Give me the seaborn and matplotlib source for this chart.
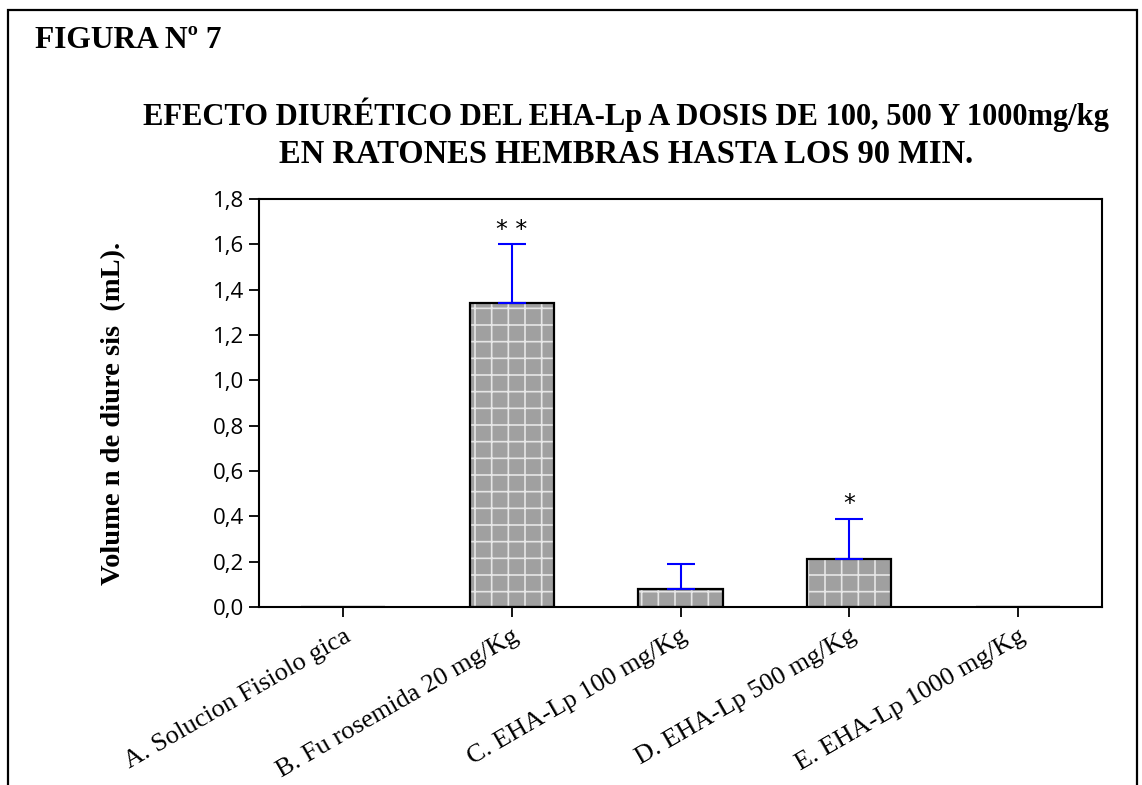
import matplotlib
matplotlib.use("Agg")
import matplotlib.pyplot as plt
import seaborn as sns
import pandas as pd
import numpy as np
from matplotlib.patches import Rectangle

# Groups and mean urine volume (mL) up to 90 min, with upper error
groups = [
    "A. Solucion Fisiolo gica",
    "B. Fu rosemida 20 mg/Kg",
    "C. EHA-Lp 100 mg/Kg",
    "D. EHA-Lp 500 mg/Kg",
    "E. EHA-Lp 1000 mg/Kg",
]
volume_ml = [0.0, 1.34, 0.08, 0.21, 0.0]
error_up = [0.0, 0.26, 0.11, 0.18, 0.0]
significance = ["", "* *", "", "*", ""]
y_ticks = [0.0, 0.2, 0.4, 0.6, 0.8, 1.0, 1.2, 1.4, 1.6, 1.8]

df = pd.DataFrame({"grupo": groups, "volumen": volume_ml})

sns.set_style("ticks")
plt.rcParams["font.family"] = ["Open Sans", "DejaVu Sans"]
plt.rcParams["hatch.linewidth"] = 1.2
for key in ("text.color", "axes.labelcolor", "xtick.color", "ytick.color",
            "axes.edgecolor"):
    plt.rcParams[key] = "black"

fig = plt.figure(figsize=(11.42, 7.85), dpi=100)
ax = fig.add_axes([0.2268, 0.2268, 0.7382, 0.5197])

# Textured grey fill (light grid hatch), then black outlines on top
sns.barplot(data=df, x="grupo", y="volumen", order=groups, color="#a0a0a0",
            saturation=1, width=0.5, errorbar=None, ax=ax,
            edgecolor="#e6e6e6", linewidth=0, hatch="+")
sns.barplot(data=df, x="grupo", y="volumen", order=groups, fill=False,
            width=0.5, errorbar=None, ax=ax, edgecolor="black", linewidth=1.6)

pos = np.arange(len(groups))
vals = np.array(volume_ml)
errs = np.array(error_up)
mask = errs > 0
ax.errorbar(pos[mask], vals[mask], yerr=[np.zeros(mask.sum()), errs[mask]],
            fmt="none", ecolor="#0000ff", elinewidth=1.5, capsize=10,
            capthick=1.5, zorder=5)

for p, v, e, s in zip(pos, vals, errs, significance):
    if s:
        ax.annotate(s, (p, v + e), xytext=(0, 2), textcoords="offset points",
                    ha="center", va="bottom", fontsize=17,
                    family=["DejaVu Sans"])

ax.set_xlim(-0.5, 4.5)
ax.set_ylim(0, 1.8)
ax.set_yticks(y_ticks)
ax.set_yticklabels([f"{t:.1f}".replace(".", ",") for t in y_ticks], fontsize=16)
ax.set_xticks(pos)
ax.set_xticklabels(groups, rotation=30, ha="right", rotation_mode="anchor",
                   fontsize=19, family=["Liberation Serif"])
ax.tick_params(axis="both", direction="out", length=7, width=1.3, color="black")
ax.tick_params(axis="x", pad=6)
ax.set_xlabel("")
ax.set_ylabel("Volume n de diure sis  (mL).", fontsize=20.5, fontweight="bold",
              family=["Liberation Serif"])
ax.yaxis.set_label_coords(-0.158, 0.475)
for sp in ax.spines.values():
    sp.set_visible(True)
    sp.set_linewidth(1.5)
    sp.set_color("black")

fig.text(35 / 1142, 1 - 48 / 785, "FIGURA Nº 7", fontsize=22.7, fontweight="bold",
         family=["Liberation Serif"], ha="left", va="baseline")
fig.text(626 / 1142, 1 - 125 / 785,
         "EFECTO DIURÉTICO DEL EHA-Lp A DOSIS DE 100, 500 Y 1000mg/kg",
         fontsize=22, fontweight="bold", family=["Liberation Serif"],
         ha="center", va="baseline")
fig.text(626 / 1142, 1 - 163 / 785, "EN RATONES HEMBRAS HASTA LOS 90 MIN.",
         fontsize=23.5, fontweight="bold", family=["Liberation Serif"],
         ha="center", va="baseline")

# Page frame
fig.patches.append(Rectangle((8 / 1142, -0.05), 1129 / 1142, 1.05 - 10 / 785,
                             transform=fig.transFigure, fill=False,
                             edgecolor="black", linewidth=1.6))

fig.savefig("out.png", dpi=100)
